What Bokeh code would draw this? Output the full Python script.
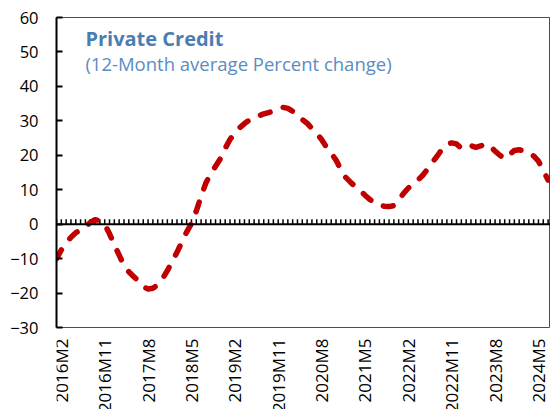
import math
from bokeh.plotting import figure
from bokeh.layouts import column
from bokeh.models import Range1d, FixedTicker, Span, Label, LinearAxis
from bokeh.core.properties import value
from bokeh.embed import file_html
from bokeh.resources import INLINE

# ---- data -------------------------------------------------------------
years = [2016] * 12 + [2017] * 12 + [2018] * 12 + [2019] * 12 + [2020] * 12 + \
        [2021] * 12 + [2022] * 12 + [2023] * 12 + [2024] * 7
month_nums = list(range(1, 13)) * 8 + list(range(1, 8))
months = [f"{y}M{m}" for y, m in zip(years, month_nums)]

credit_growth = [
    -10.0, -7.5, -5.5, -3.8, -2.5, -1.6, -0.8, 0.5, 1.3, 1.0, 0.0, -2.8,
    -6.0, -9.0, -12.0, -13.8, -15.2, -16.5, -18.2, -18.8, -18.6, -17.6, -15.8, -13.5,
    -10.8, -8.2, -5.2, -2.3, 0.2, 3.8, 8.0, 12.0, 14.6, 16.8, 19.0, 22.0,
    24.6, 26.4, 28.0, 29.2, 30.2, 31.0, 31.5, 32.0, 32.4, 32.8, 33.5, 33.9,
    33.6, 32.8, 31.8, 30.4, 29.3, 27.8, 26.3, 24.6, 22.4, 20.6, 18.6, 15.8,
    13.6, 12.2, 10.9, 9.9, 8.4, 7.2, 6.1, 5.5, 5.2, 5.1, 5.4, 7.0,
    8.9, 10.5, 11.8, 12.8, 14.2, 16.0, 18.0, 19.8, 21.8, 23.2, 23.6, 23.3,
    22.0, 22.6, 22.8, 22.3, 22.7, 23.3, 22.6, 21.2, 20.0, 19.0, 20.2, 21.4,
    21.6, 21.2, 20.9, 19.8, 18.3, 15.6, 12.8,
]

tick_labels = ["2016M2", "2016M11", "2017M8", "2018M5", "2019M2", "2019M11",
               "2020M8", "2021M5", "2022M2", "2022M11", "2023M8", "2024M5"]
y_ticks = [-30, -20, -10, 0, 10, 20, 30, 40, 50, 60]

title_text = "Private Credit"
subtitle_text = "(12-Month average Percent change)"

# ---- main chart -------------------------------------------------------
idx = list(range(len(months)))
tick_pos = [months.index(t) for t in tick_labels]

FONT = "Open Sans"

p = figure(width=550, height=338, output_backend="svg", toolbar_location=None,
           x_range=Range1d(0, 102.5), y_range=Range1d(-30, 60),
           x_axis_location=None, y_axis_location=None,
           min_border_left=56, min_border_right=0, min_border_top=17,
           min_border_bottom=11)
p.grid.visible = False
p.outline_line_color = "#4d4d4d"
p.outline_line_width = 1
p.background_fill_color = "white"
p.border_fill_color = "white"

yaxis = LinearAxis(ticker=FixedTicker(ticks=y_ticks))
yaxis.axis_line_color = "black"
yaxis.axis_line_width = 2
yaxis.major_tick_in = 6
yaxis.major_tick_out = 0
yaxis.major_tick_line_width = 2
yaxis.major_tick_line_color = "black"
yaxis.minor_tick_line_color = None
yaxis.major_label_standoff = 18
yaxis.major_label_text_font = FONT
yaxis.major_label_text_font_size = "16.5px"
yaxis.major_label_text_color = "black"
p.add_layout(yaxis, "left")

# zero line with monthly tick marks
p.add_layout(Span(location=0, dimension="width", line_color="black", line_width=2))
p.segment(x0=idx, y0=[0] * len(idx), x1=idx, y1=[1.4] * len(idx),
          line_color="black", line_width=1.5)

p.line(idx, credit_growth, line_color="#c00000", line_width=5.5,
       line_dash="10 14", line_cap="round", line_join="round")

p.add_layout(Label(x=6.0, y=54.0, text=title_text, text_font=FONT,
                   text_font_style="bold", text_font_size="20px",
                   text_color="#4a7eb3", text_baseline="alphabetic"))
p.add_layout(Label(x=6.0, y=46.7, text=subtitle_text, text_font=FONT,
                   text_font_size="18.5px", text_color="#5b8cc0",
                   text_baseline="alphabetic"))

# ---- category labels strip (runs off the bottom like the original) ----
q = figure(width=550, height=71, output_backend="svg", toolbar_location=None,
           x_range=p.x_range, y_range=Range1d(0, 71),
           x_axis_location=None, y_axis_location=None,
           min_border_left=56, min_border_right=0, min_border_top=0,
           min_border_bottom=0)
q.grid.visible = False
q.outline_line_color = None
q.background_fill_color = "white"
q.border_fill_color = "white"
q.text(x=tick_pos, y=[71] * len(tick_pos), text=tick_labels, angle=math.pi / 2,
       text_align="right", text_baseline="middle", text_font_size="17px",
       text_color="black", text_font=value(FONT))

layout = column(p, q, spacing=0)
open("out.html", "w").write(file_html(layout, INLINE))
